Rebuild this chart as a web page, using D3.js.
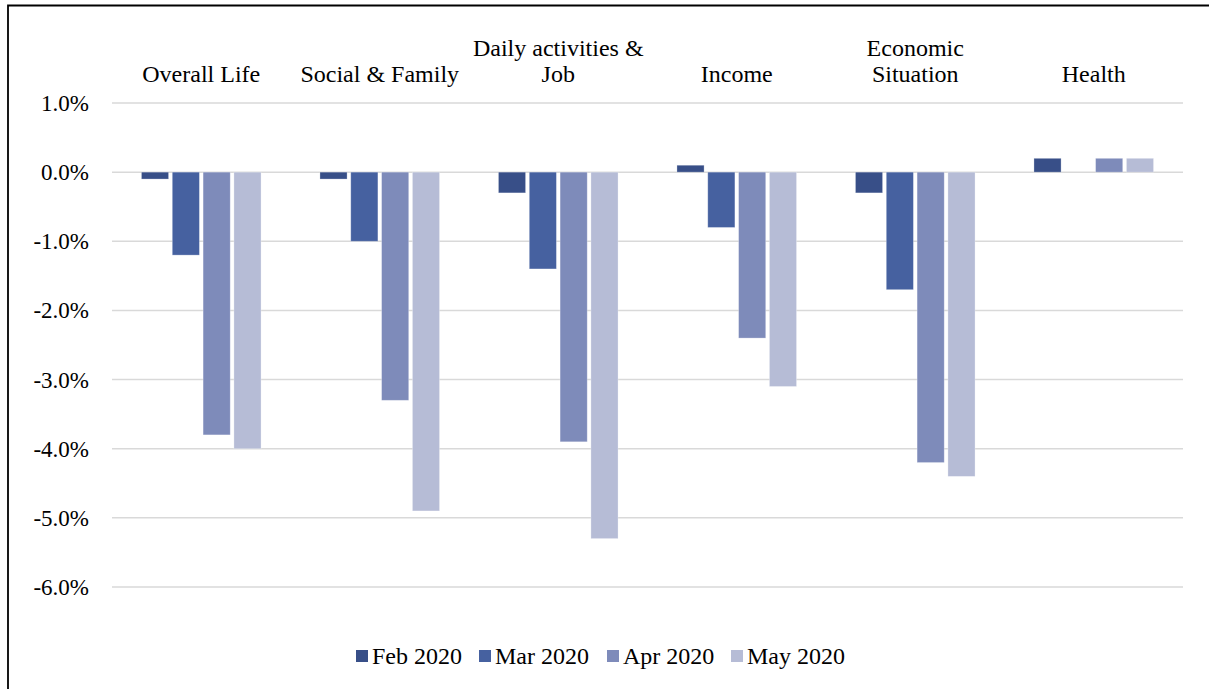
<!DOCTYPE html>
<html><head><meta charset="utf-8">
<script src="https://cdn.jsdelivr.net/npm/d3@7"></script>
<style>body{margin:0;background:#fff;} svg{display:block;}</style>
</head><body>
<svg id="c" width="1209" height="689"></svg>
<script>
const categories = [["Overall Life"], ["Social & Family"], ["Daily activities &", "Job"], ["Income"], ["Economic", "Situation"], ["Health"]];
const seriesNames = ["Feb 2020", "Mar 2020", "Apr 2020", "May 2020"];
const feb = [-0.1, -0.1, -0.3, 0.1, -0.3, 0.2];
const mar = [-1.2, -1.0, -1.4, -0.8, -1.7, 0.0];
const apr = [-3.8, -3.3, -3.9, -2.4, -4.2, 0.2];
const may = [-4.0, -4.9, -5.3, -3.1, -4.4, 0.2];
const yTicks = [1, 0, -1, -2, -3, -4, -5, -6];
const colors = ["#384f88", "#4661a0", "#7e8bba", "#b6bcd6"];

const seriesValues = [feb, mar, apr, may];
const svg = d3.select("#c");
const font = "Liberation Serif, Times New Roman, serif";

// frame
svg.append("path").attr("d", "M8,700 L8,5.5 L1215,5.5").attr("fill", "none").attr("stroke", "#000").attr("stroke-width", 1.8);

const x0 = d3.scaleBand().domain(d3.range(categories.length)).range([112, 1183]).paddingInner(0).paddingOuter(0);
const y = d3.scaleLinear().domain([-6, 1]).range([587, 103]);
const groupW = x0.bandwidth() * 0.67;
const x1 = d3.scaleBand().domain(d3.range(4)).range([0, groupW]).paddingInner(0.12);

// gridlines
svg.append("g").selectAll("line").data(yTicks).join("line")
  .attr("x1", 112).attr("x2", 1183)
  .attr("y1", d => y(d)).attr("y2", d => y(d))
  .attr("stroke", "#d9d9d9").attr("stroke-width", 1.5);

// y labels
svg.append("g").selectAll("text").data(yTicks).join("text")
  .attr("x", 89).attr("y", d => y(d)).attr("dy", "0.35em")
  .attr("text-anchor", "end").style("font-family", font).attr("font-size", 23).attr("fill", "#000")
  .text(d => d3.format(".1f")(d).replace("\u2212", "-") + "%");

// bars
seriesValues.forEach((vals, si) => {
  svg.append("g").selectAll("rect").data(vals).join("rect")
    .attr("x", (d, i) => x0(i) + (x0.bandwidth() - groupW) / 2 + x1(si))
    .attr("width", x1.bandwidth())
    .attr("y", d => y(Math.max(0, d)))
    .attr("height", d => Math.abs(y(d) - y(0)))
    .attr("fill", colors[si])
    .attr("stroke", "#fff").attr("stroke-opacity", 0.35).attr("stroke-width", 0.8);
});

// category labels
const cl = svg.append("g");
categories.forEach((lines, i) => {
  const cx = x0(i) + x0.bandwidth() / 2;
  const t = cl.append("text").attr("text-anchor", "middle").style("font-family", font).attr("font-size", 24).attr("fill", "#000");
  const baseY = 82 - (lines.length - 1) * 26.5;
  lines.forEach((ln, j) => {
    t.append("tspan").attr("x", cx).attr("y", baseY + j * 26.5).text(ln);
  });
});

// legend
const legX = [356, 479, 607, 731];
const lg = svg.append("g");
seriesNames.forEach((n, i) => {
  lg.append("rect").attr("x", legX[i]).attr("y", 650).attr("width", 12).attr("height", 12).attr("fill", colors[i]);
  lg.append("text").attr("x", legX[i] + 16).attr("y", 664).style("font-family", font).attr("font-size", 24).attr("fill", "#000").text(n);
});
</script>
</body></html>
